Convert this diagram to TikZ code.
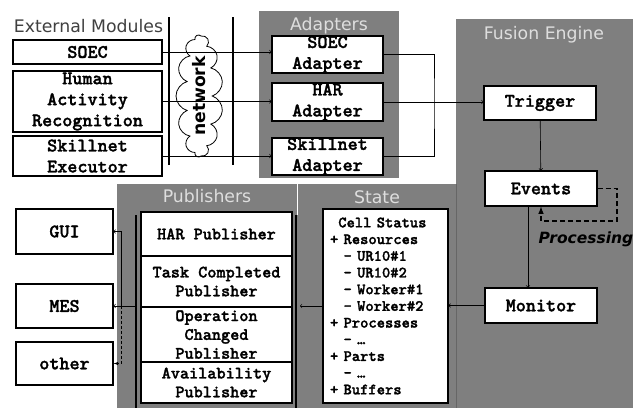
\documentclass[tikz,border=0pt]{standalone}
\usepackage{fontspec}
\setsansfont{DejaVu Sans}
\setmonofont{lmmono10-regular.otf}[BoldFont=lmmonolt10-bold.otf,BoldFeatures={FakeBold=1.5}]
\usetikzlibrary{shapes.symbols,arrows}

\definecolor{gris}{RGB}{127,127,127}
\definecolor{grisclair}{RGB}{222,222,222}

\begin{document}
\begin{tikzpicture}[x=1pt,y=-1pt]
    \tikzstyle{boite}=[draw,fill=white,line width=1.2pt,inner sep=0pt,align=center,font=\ttfamily\bfseries\fontsize{19.2}{21}\selectfont]
    \tikzstyle{pub}=[boite,minimum width=151,font=\ttfamily\bfseries\fontsize{17.4}{18.8}\selectfont]
    \tikzstyle{titre}=[text=grisclair,anchor=base,font=\sffamily\fontsize{17.3}{20}\selectfont]
    \tikzstyle{fleche}=[->,line width=0.6pt]
    \useasboundingbox (0,0) rectangle (633,408);
    % panneaux gris
    \fill[gris] (259,11) rectangle (399,178);
    \fill[gris] (456,19) rectangle (633,408);
    \fill[gris] (117,184) rectangle (456,408);
    \draw[white,line width=0.6pt] (297,184) -- (297,215);
    \draw[black!60,line width=0.6pt] (456,184) -- (456,408);
    \node[titre,text=black!75] (ext) at (88.5,32) {External Modules};
    \node[titre] (adapt) at (329,30) {Adapters};
    \node[titre] (fusion) at (544,39) {Fusion Engine};
    \node[titre] (publi) at (207,202) {Publishers};
    \node[titre] (state) at (377,203) {State};
    % modules externes
    \node[boite,minimum width=149,minimum height=24] (soec) at (87.5,52) {SOEC};
    \node[boite,minimum width=149,minimum height=61] (har) at (87.5,101.5) {Human\\Activity\\Recognition};
    \node[boite,minimum width=149,minimum height=40] (skill) at (87.5,156) {Skillnet\\Executor};
    % reseau
    \draw[line width=1.5pt] (169,17) -- (169,165);
    \draw[line width=1.5pt] (233,17) -- (233,165);
    \node[cloud,draw,fill=white,line width=0.8pt,cloud puffs=13,cloud ignores aspect,minimum width=122,minimum height=47,inner sep=0pt,rotate=90,font=\sffamily\bfseries\fontsize{17.2}{20}\selectfont] (net) at (199.5,96) {network};
    % adaptateurs
    \node[boite,minimum width=111,minimum height=34] (soecad) at (327.5,54.5) {SOEC\\Adapter};
    \node[boite,minimum width=111,minimum height=38] (harad) at (327.5,102) {HAR\\Adapter};
    \node[boite,minimum width=111,minimum height=35] (skillad) at (327.5,156.5) {Skillnet\\Adapter};
    \draw[fleche] (soec.east) -- (soec.east -| soecad.west);
    \draw[fleche] (har.east) -- (har.east -| harad.west);
    \draw[fleche] (skill.east) -- (skill.east -| skillad.west);
    % moteur de fusion
    \node[boite,minimum width=112,minimum height=34] (trigger) at (540,103) {Trigger};
    \node[boite,minimum width=112,minimum height=35] (events) at (541,188.5) {Events};
    \node[boite,minimum width=112,minimum height=35] (monitor) at (541,305.5) {Monitor};
    \coordinate (joint) at (434,102);
    \coordinate (boucle) at (617,221);
    \draw[line width=0.6pt] (soecad.east) -| (joint) |- (skillad.east);
    \draw[fleche] (harad.east) -- (harad.east -| trigger.west);
    \draw[fleche] (trigger) -- (events);
    \draw[fleche] ([xshift=-13]events.south) -- ([xshift=-13]monitor.north);
    \draw[dash pattern=on 5pt off 3pt,line width=1.5pt,-latex] (events.east) -| (boucle) -| (events.south);
    \node[anchor=base west,font=\sffamily\bfseries\itshape\fontsize{15.5}{18}\selectfont] (proc) at (535,243) {Processing};
    % etat
    \node[boite,minimum width=125,minimum height=194,text width=111,align=left,font=\ttfamily\bfseries\fontsize{15.8}{16.7}\selectfont] (cell) at (385.5,306)
        {\phantom{+}Cell Status\\+ Resources\\\phantom{+ }- UR10\#1\\\phantom{+ }- UR10\#2\\\phantom{+ }- Worker\#1\\\phantom{+ }- Worker\#2\\+ Processes\\\phantom{+ }- …\\+ Parts\\\phantom{+ }- …\\+ Buffers};
    \draw[fleche] (monitor.west) -- (monitor.west -| cell.east);
    % publishers
    \coordinate (busL) at (136,215);
    \coordinate (busR) at (296,215);
    \draw[line width=2.5pt] (busL) -- (136,408);
    \draw[line width=2.5pt] (busR) -- (296,408);
    \node[pub,minimum height=44] (harpub) at (216.5,234) {HAR Publisher};
    \node[pub,minimum height=51] (taskpub) at (216.5,281.5) {Task Completed\\Publisher};
    \node[pub,minimum height=55] (oppub) at (216.5,334.5) {Operation\\Changed\\Publisher};
    \node[pub,minimum height=41] (availpub) at (216.5,382.5) {Availability\\Publisher};
    \draw[fleche] (cell.west) -- ([xshift=4]cell.west -| busR);
    % sorties
    \node[boite,minimum width=97,minimum height=45] (gui) at (64.5,231.5) {GUI};
    \node[boite,minimum width=97,minimum height=44] (mes) at (64.5,306) {MES};
    \node[boite,minimum width=97,minimum height=43] (other) at (64.5,363.5) {other};
    \coordinate (split) at (121,306);
    \draw[fleche] (mes.east -| busL) -- (mes.east);
    \draw[fleche] (split) |- (gui.east);
    \draw[densely dashed,line width=0.6pt,-latex] (split) |- (other.east);
\end{tikzpicture}
\end{document}
